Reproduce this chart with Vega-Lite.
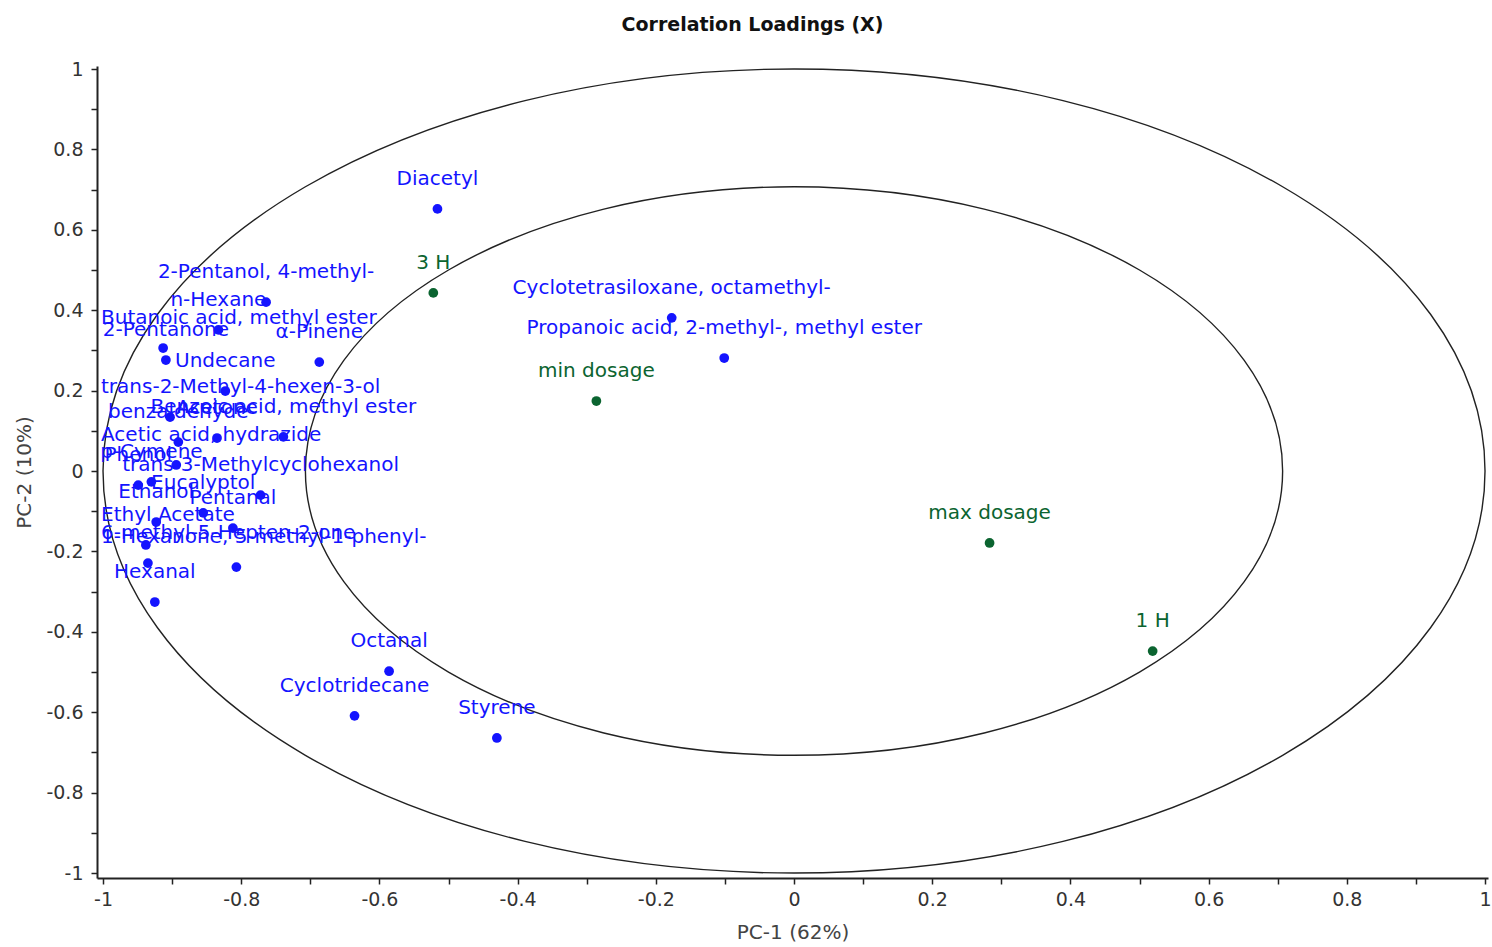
{
  "$schema": "https://vega.github.io/schema/vega-lite/v6.json",
  "autosize": "none",
  "width": 1391,
  "height": 812,
  "padding": {"left": 97, "top": 66, "right": 4, "bottom": 69},
  "background": "white",
  "config": {"view": {"stroke": null}, "font": "DejaVu Sans"},
  "title": {"text": "Correlation Loadings (X)", "fontSize": 19, "fontWeight": "bold", "font": "DejaVu Sans", "color": "#111", "anchor": "middle", "dx": -40, "offset": 25},
  "datasets": {
    "loadings": [
      {"label": "Diacetyl", "x": -0.516, "y": 0.652, "group": "variable"},
      {"label": "Cyclotetrasiloxane, octamethyl-", "x": -0.177, "y": 0.381, "group": "variable"},
      {"label": "Propanoic acid, 2-methyl-, methyl ester", "x": -0.101, "y": 0.281, "group": "variable"},
      {"label": "Octanal", "x": -0.586, "y": -0.498, "group": "variable"},
      {"label": "Cyclotridecane", "x": -0.636, "y": -0.609, "group": "variable"},
      {"label": "Styrene", "x": -0.430, "y": -0.664, "group": "variable"},
      {"label": "2-Pentanol, 4-methyl-", "x": -0.764, "y": 0.420, "group": "variable"},
      {"label": "n-Hexane", "x": -0.833, "y": 0.351, "group": "variable"},
      {"label": "Butanoic acid, methyl ester", "x": -0.913, "y": 0.306, "group": "variable"},
      {"label": "2-Pentanone", "x": -0.909, "y": 0.276, "group": "variable"},
      {"label": "α-Pinene", "x": -0.687, "y": 0.271, "group": "variable"},
      {"label": "Undecane", "x": -0.823, "y": 0.199, "group": "variable"},
      {"label": "trans-2-Methyl-4-hexen-3-ol", "x": -0.903, "y": 0.134, "group": "variable"},
      {"label": "Acetone", "x": -0.835, "y": 0.082, "group": "variable"},
      {"label": "Benzoic acid, methyl ester", "x": -0.739, "y": 0.085, "group": "variable"},
      {"label": "benzaldehyde", "x": -0.891, "y": 0.072, "group": "variable"},
      {"label": "Acetic acid, hydrazide", "x": -0.894, "y": 0.015, "group": "variable"},
      {"label": "p-Cymene", "x": -0.930, "y": -0.027, "group": "variable"},
      {"label": "Phenol", "x": -0.949, "y": -0.035, "group": "variable"},
      {"label": "trans-3-Methylcyclohexanol", "x": -0.772, "y": -0.060, "group": "variable"},
      {"label": "Eucalyptol", "x": -0.855, "y": -0.104, "group": "variable"},
      {"label": "Ethanol", "x": -0.923, "y": -0.127, "group": "variable"},
      {"label": "Pentanal", "x": -0.812, "y": -0.142, "group": "variable"},
      {"label": "Ethyl Acetate", "x": -0.938, "y": -0.184, "group": "variable"},
      {"label": "6-methyl-5-Hepten-2-one", "x": -0.935, "y": -0.229, "group": "variable"},
      {"label": "1-Hexanone, 5-methyl-1-phenyl-", "x": -0.807, "y": -0.239, "group": "variable"},
      {"label": "Hexanal", "x": -0.925, "y": -0.326, "group": "variable"},
      {"label": "3 H", "x": -0.522, "y": 0.443, "group": "sample"},
      {"label": "min dosage", "x": -0.286, "y": 0.174, "group": "sample"},
      {"label": "max dosage", "x": 0.283, "y": -0.179, "group": "sample"},
      {"label": "1 H", "x": 0.519, "y": -0.448, "group": "sample"}
    ],
    "circles": [{"r": 1}, {"r": 0.7071}]
  },
  "encoding": {
    "x": {"type": "quantitative", "scale": {"domain": [-1.0087, 1.0043], "nice": false, "zero": false},
      "axis": {"title": "PC-1 (62%)", "values": [-1,-0.9,-0.8,-0.7,-0.6,-0.5,-0.4,-0.3,-0.2,-0.1,0,0.1,0.2,0.3,0.4,0.5,0.6,0.7,0.8,0.9,1],
        "labelExpr": "round(datum.value*10) % 2 == 0 ? toString(round(datum.value*10)/10) : ''",
        "grid": false, "domainColor": "#222", "domainWidth": 2, "tickColor": "#222", "tickWidth": 1.5, "tickSize": 6,
        "labelFont": "DejaVu Sans", "labelFontSize": 19, "labelColor": "#333", "labelPadding": 6, "labelFlush": false, "labelOverlap": false,
        "titleFont": "DejaVu Sans", "titleFontSize": 20, "titleFontWeight": "normal", "titleColor": "#444", "titlePadding": 13}},
    "y": {"type": "quantitative", "scale": {"domain": [-1.0124, 1.0075], "nice": false, "zero": false},
      "axis": {"title": "PC-2 (10%)", "values": [-1,-0.9,-0.8,-0.7,-0.6,-0.5,-0.4,-0.3,-0.2,-0.1,0,0.1,0.2,0.3,0.4,0.5,0.6,0.7,0.8,0.9,1],
        "labelExpr": "round(datum.value*10) % 2 == 0 ? toString(round(datum.value*10)/10) : ''",
        "grid": false, "domainColor": "#222", "domainWidth": 2, "tickColor": "#222", "tickWidth": 1.5, "tickSize": 6,
        "labelFont": "DejaVu Sans", "labelFontSize": 19, "labelColor": "#333", "labelPadding": 8, "labelFlush": false, "labelOverlap": false,
        "titleFont": "DejaVu Sans", "titleFontSize": 20, "titleFontWeight": "normal", "titleColor": "#444", "titlePadding": 11}}
  },
  "layer": [
    {"mark": {"type": "rule", "color": "#8c8c8c", "strokeWidth": 1.2}, "encoding": {"y": {"datum": 0}, "x": null}},
    {"mark": {"type": "rule", "color": "#8c8c8c", "strokeWidth": 1.2}, "encoding": {"x": {"datum": 0}, "y": null}},
    {"data": {"name": "circles"},
     "mark": {"type": "point", "filled": false, "stroke": "#222", "strokeWidth": 1.4, "opacity": 1,
       "shape": "M 1 0 C 1 0.3213 0.5523 0.5818 0 0.5818 C -0.5523 0.5818 -1 0.3213 -1 0 C -1 -0.3213 -0.5523 -0.5818 0 -0.5818 C 0.5523 -0.5818 1 -0.3213 1 0 Z"},
     "encoding": {"x": {"datum": 0}, "y": {"datum": 0},
       "size": {"field": "r", "type": "quantitative", "scale": {"type": "pow", "exponent": 2, "domain": [0, 1], "range": [0, 1909924]}, "legend": null}}},
    {"data": {"name": "loadings"},
     "transform": [{"filter": "!(datum.x - length(datum.label) * 0.00754 < -1.0)"}],
     "mark": {"type": "text", "align": "center", "baseline": "alphabetic", "dy": -24, "fontSize": 20, "font": "DejaVu Sans"},
     "encoding": {"x": {"field": "x", "type": "quantitative"}, "y": {"field": "y", "type": "quantitative"}, "text": {"field": "label"},
       "color": {"field": "group", "type": "nominal", "scale": {"domain": ["variable", "sample"], "range": ["#1414ff", "#0b6430"]}, "legend": null}}},
    {"data": {"name": "loadings"},
     "transform": [{"filter": "datum.x - length(datum.label) * 0.00754 < -1.0"}],
     "mark": {"type": "text", "align": "left", "baseline": "alphabetic", "dy": -24, "fontSize": 20, "font": "DejaVu Sans"},
     "encoding": {"x": {"datum": -1.0029}, "y": {"field": "y", "type": "quantitative"}, "text": {"field": "label"},
       "color": {"field": "group", "type": "nominal", "scale": {"domain": ["variable", "sample"], "range": ["#1414ff", "#0b6430"]}, "legend": null}}},
    {"data": {"name": "loadings"},
     "mark": {"type": "circle", "size": 95, "opacity": 1},
     "encoding": {"x": {"field": "x", "type": "quantitative"}, "y": {"field": "y", "type": "quantitative"},
       "color": {"field": "group", "type": "nominal", "scale": {"domain": ["variable", "sample"], "range": ["#0000ff", "#0b7a22"]}, "legend": null}}}
  ]
}
